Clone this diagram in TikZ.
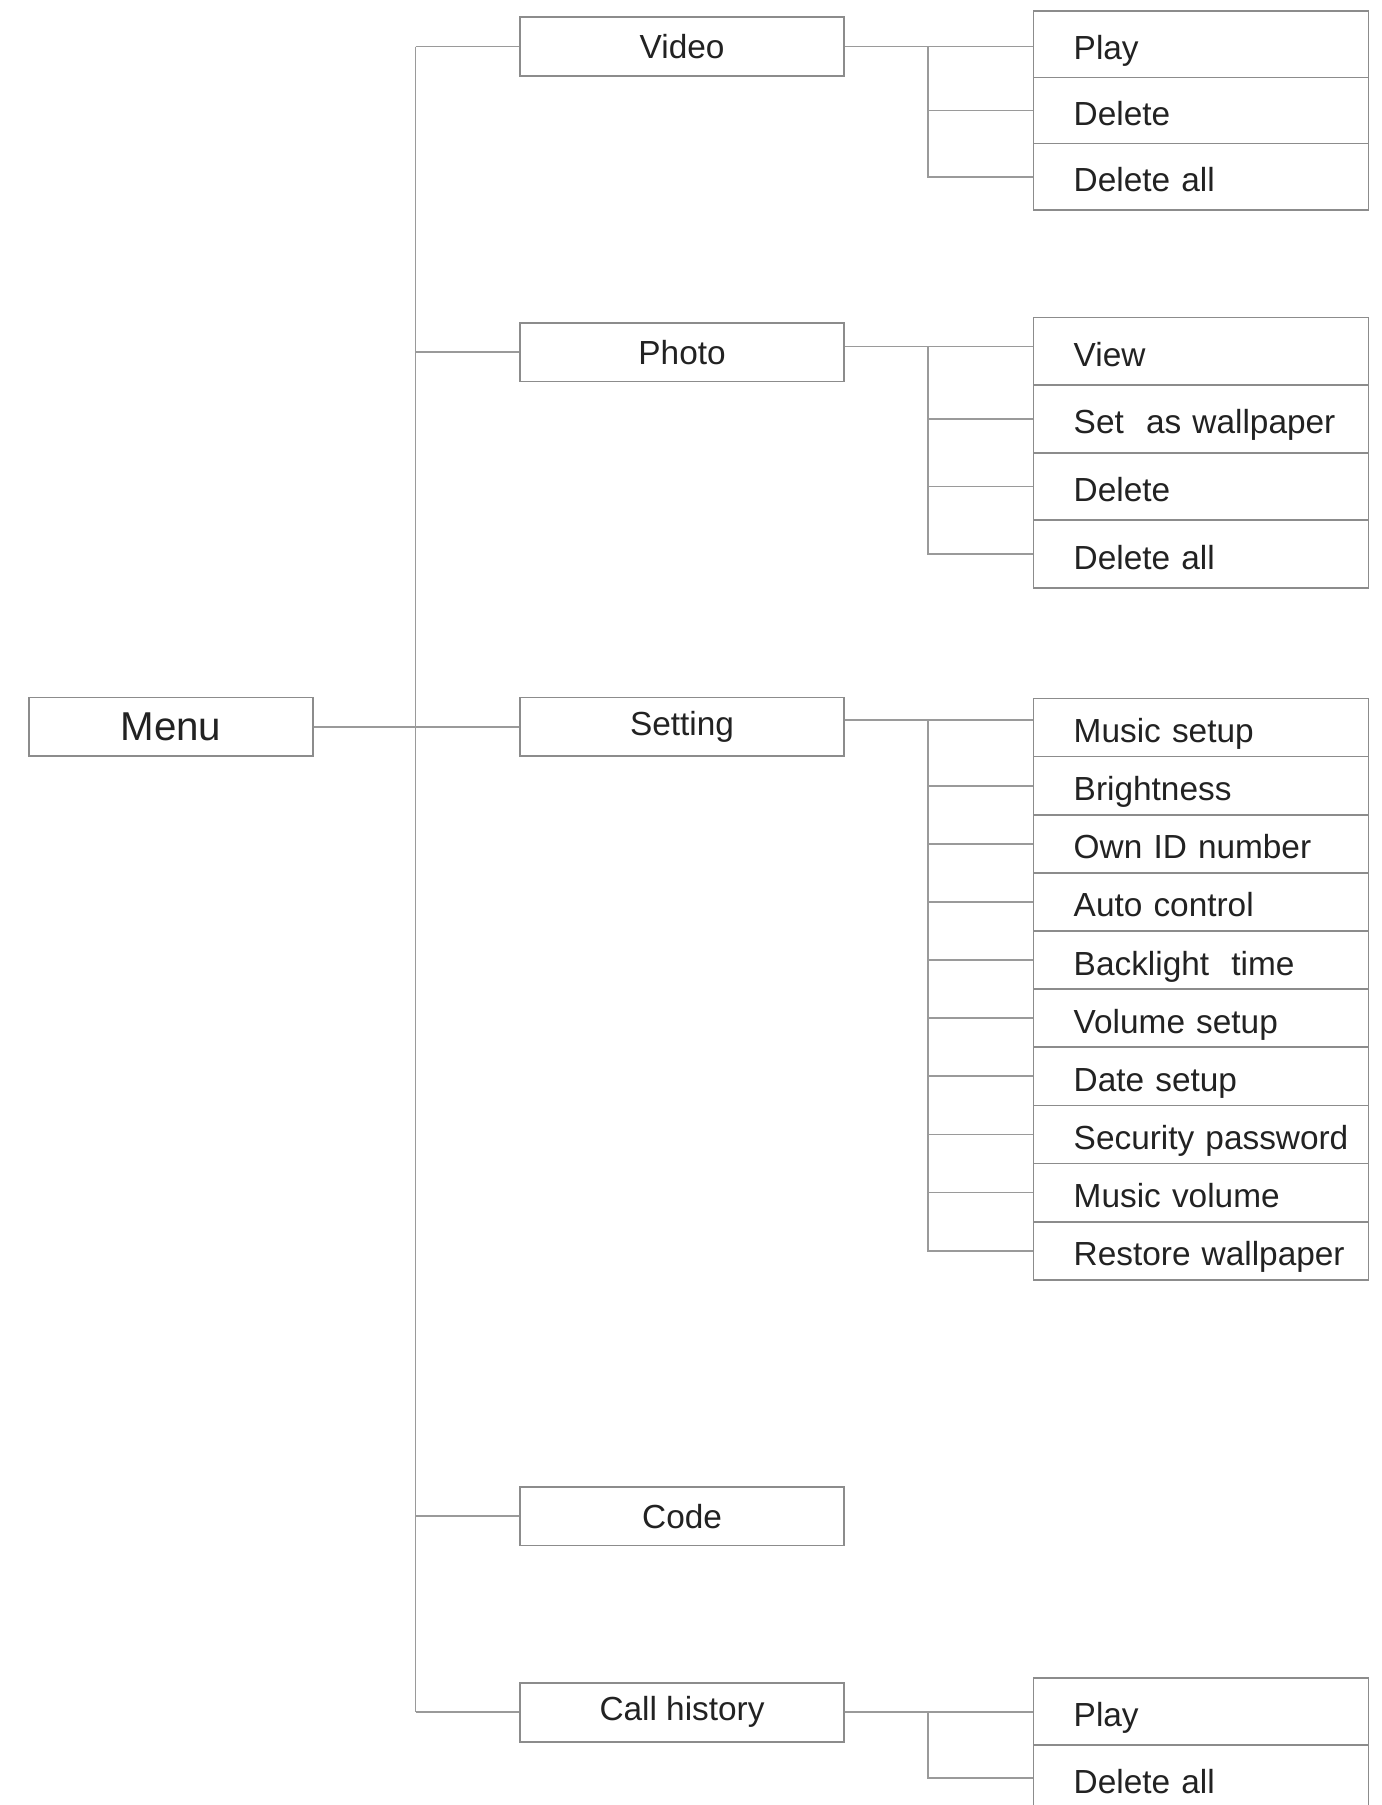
\documentclass[tikz,border=0pt]{standalone}
\usepackage{fontspec}
\setmainfont{Liberation Sans}
\definecolor{linegray}{HTML}{9A9A9A}
\definecolor{boxgray}{HTML}{8C8C8C}
\definecolor{txt}{HTML}{222222}
\begin{document}
\begin{tikzpicture}[x=1pt,y=-1pt,
  conn/.style={draw=linegray, line width=1.5pt},
  midbox/.style={draw=boxgray, line width=1.5pt, minimum width=281pt, minimum height=51pt,
    inner sep=0pt, font=\fontsize{29}{34}\selectfont, text=txt},
  leaf/.style={draw=boxgray, line width=1.5pt, anchor=north west, text width=291pt,
    inner xsep=0pt, inner ysep=0pt, text height=26pt, text depth=0pt, align=left,
    font=\fontsize{29}{34}\selectfont, text=txt, execute at begin node={\hspace*{35pt}}},
]
\useasboundingbox (0,0) rectangle (1200,1568);
\fill[white] (0,0) rectangle (1200,1568);

% coordinates of the vertical trunks
\coordinate (trunk) at (361,0);
\coordinate (brx) at (806,0);

% root
\node[draw=boxgray, line width=1.5pt, minimum width=247pt, minimum height=51pt, inner sep=0pt,
  font=\fontsize{35}{40}\selectfont, text=txt] (menu) at (148.5,631.5) {Menu};

% second level
\node[midbox] (video) at (592.5,40.5) {Video};
\node[midbox] (photo) at (592.5,306) {Photo};
\node[midbox] (setting) at (592.5,631.5) {Setting};
\node[midbox] (code) at (592.5,1317) {Code};
\node[midbox] (call) at (592.5,1487.5) {Call history};

% video leaves
\node[leaf, minimum height=57.5pt] (v1) at (897,9) {Play};
\node[leaf, minimum height=57.5pt] (v2) at (897,66.5) {Delete};
\node[leaf, minimum height=57.5pt] (v3) at (897,124) {Delete all};

% photo leaves
\node[leaf, minimum height=58.75pt] (p1) at (897,275) {View};
\node[leaf, minimum height=58.75pt] (p2) at (897,333.75) {Set\ \ as wallpaper};
\node[leaf, minimum height=58.75pt] (p3) at (897,392.5) {Delete};
\node[leaf, minimum height=58.75pt] (p4) at (897,451.25) {Delete all};

% setting leaves
\node[leaf, minimum height=50.5pt] (s1) at (897,606) {Music setup};
\node[leaf, minimum height=50.5pt] (s2) at (897,656.5) {Brightness};
\node[leaf, minimum height=50.5pt] (s3) at (897,707) {Own ID number};
\node[leaf, minimum height=50.5pt] (s4) at (897,757.5) {Auto control};
\node[leaf, minimum height=50.5pt] (s5) at (897,808) {Backlight\ \ time};
\node[leaf, minimum height=50.5pt] (s6) at (897,858.5) {Volume setup};
\node[leaf, minimum height=50.5pt] (s7) at (897,909) {Date setup};
\node[leaf, minimum height=50.5pt] (s8) at (897,959.5) {Security password};
\node[leaf, minimum height=50.5pt] (s9) at (897,1010) {Music volume};
\node[leaf, minimum height=50.5pt] (s10) at (897,1060.5) {Restore wallpaper};

% call history leaves
\node[leaf, minimum height=58pt] (c1) at (897,1457) {Play};
\node[leaf, minimum height=58pt] (c2) at (897,1515) {Delete all};

% joints on parents
\coordinate (pj) at ([yshift=5pt]photo.east);
\coordinate (sj) at ([yshift=6pt]setting.east);

% main trunk
\draw[conn] (trunk |- video.west) -- (trunk |- call.west);
\draw[conn] (trunk |- video.west) -- (video.west);
\draw[conn] (trunk |- photo.west) -- (photo.west);
\draw[conn] (menu.east) -- (setting.west);
\draw[conn] (trunk |- code.west) -- (code.west);
\draw[conn] (trunk |- call.west) -- (call.west);

% video branch
\draw[conn] (video.east) -- (video.east -| v1.west);
\draw[conn] (brx |- video.east) |- (v3.west);
\draw[conn] (brx |- v2.west) -- (v2.west);

% photo branch
\draw[conn] (pj) -- (pj -| p1.west);
\draw[conn] (brx |- pj) |- (p4.west);
\foreach \n in {p2,p3} \draw[conn] (brx |- \n.west) -- (\n.west);

% setting branch
\draw[conn] (sj) -- (sj -| s1.west);
\draw[conn] (brx |- sj) |- (s10.west);
\foreach \n in {s2,s3,s4,s5,s6,s7,s8,s9} \draw[conn] (brx |- \n.west) -- (\n.west);

% call history branch
\draw[conn] (call.east) -- (call.east -| c1.west);
\draw[conn] (brx |- call.east) |- (c2.west);
\end{tikzpicture}
\end{document}
